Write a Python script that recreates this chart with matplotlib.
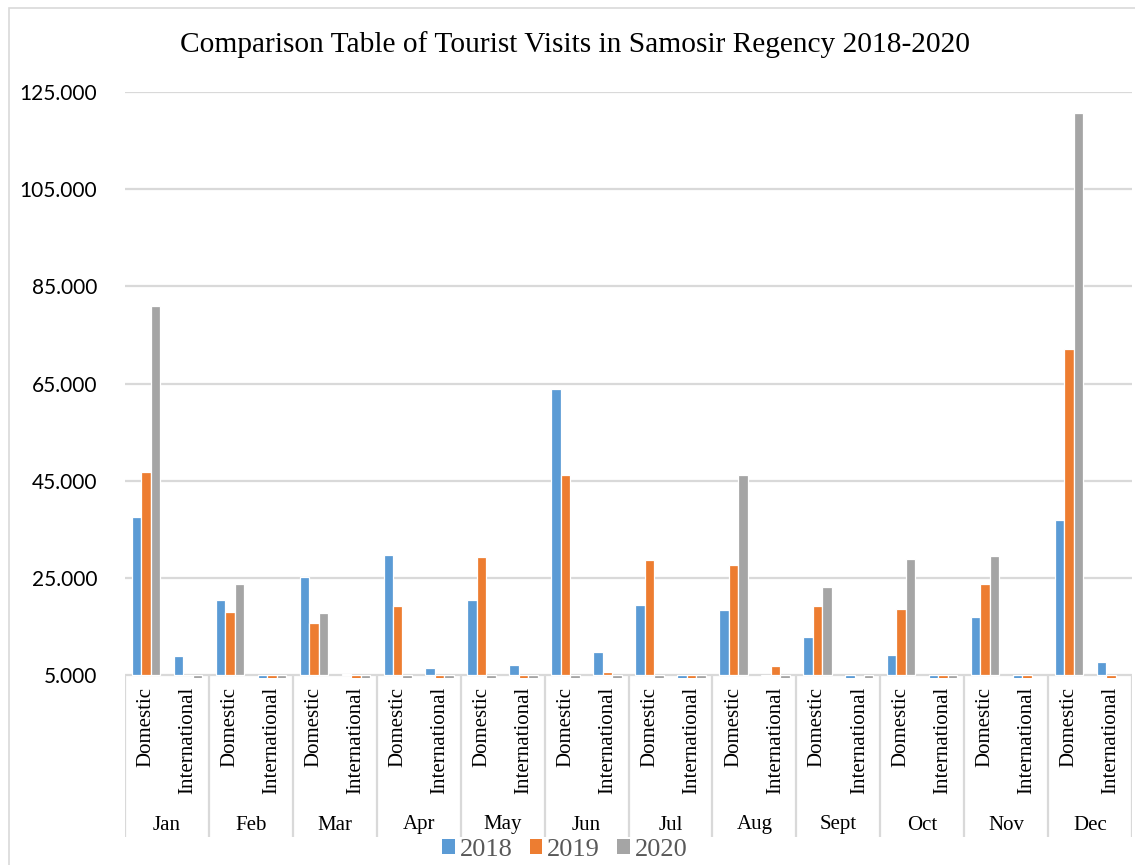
import numpy as np
import matplotlib.pyplot as plt
from matplotlib.patches import Patch, Rectangle
from matplotlib.ticker import FuncFormatter

# ---------------------------------------------------------
# data
# ---------------------------------------------------------
months = ["Jan", "Feb", "Mar", "Apr", "May", "Jun",
          "Jul", "Aug", "Sept", "Oct", "Nov", "Dec"]
kinds = ["Domestic", "International"]
years = ["2018", "2019", "2020"]

dom_2018 = [37500, 20500, 25200, 29700, 20400, 63900, 19500, 18300, 12900, 9100, 17000, 37000]
dom_2019 = [46800, 17900, 15800, 19300, 29300, 46100, 28700, 27700, 19200, 18600, 23700, 72100]
dom_2020 = [81000, 23700, 17800, 600, 500, 700, 400, 46100, 23100, 28900, 29400, 120700]

intl_2018 = [8900, 300, 5300, 6400, 7100, 9700, 300, 4800, 300, 300, 300, 7600]
intl_2019 = [4900, 300, 300, 300, 300, 5700, 300, 6900, np.nan, 300, 300, 300]
intl_2020 = [300, 300, 300, 300, 300, 300, 300, 300, 300, 300, np.nan, np.nan]

colors = ["#5B9BD5", "#ED7D31", "#A5A5A5"]
grid_c = "#D9D9D9"
serif = "Liberation Serif"

# interleave Domestic / International per month
series = []
for d, i in [(dom_2018, intl_2018), (dom_2019, intl_2019), (dom_2020, intl_2020)]:
    s = []
    for m in range(len(months)):
        s += [d[m], i[m]]
    series.append(np.array(s, dtype=float))

n_cat = len(months) * len(kinds)
base = 5000
W, H = 1135, 865

# ---------------------------------------------------------
# plot
# ---------------------------------------------------------
fig = plt.figure(figsize=(W / 100, H / 100), dpi=100)

# outer chart border (right/bottom are cut off in the original)
fig.patches.append(Rectangle((9 / W, -0.05), 1.1, 1 - 8 / H + 0.05,
                             transform=fig.transFigure, fill=False,
                             edgecolor=grid_c, linewidth=1.2))

x0, x1 = 125, 1132
ytop, yaxis = 92, 675
ymin = base - 3 * (125000 - base) / (yaxis - ytop)
ax = fig.add_axes([x0 / W, (H - yaxis - 3) / H, (x1 - x0) / W, (yaxis + 3 - ytop) / H])

x = np.arange(n_cat) + 0.5
bw = 0.226
for k, (vals, c) in enumerate(zip(series, colors)):
    ax.bar(x + (k - 1) * bw, vals - base, bottom=base, width=bw,
           color=c, edgecolor="white", linewidth=0.9, zorder=2)

ax.set_xlim(0, n_cat)
ax.set_ylim(ymin, 125000)
ax.set_yticks(np.arange(5000, 125001, 20000))
ax.yaxis.set_major_formatter(FuncFormatter(lambda v, p: f"{int(v):,}".replace(",", ".")))
ax.set_xticks([])
ax.tick_params(axis="y", length=0, pad=20, labelsize=15, labelcolor="#000000")
for lab in ax.get_yticklabels():
    lab.set_family("Lato")
ax.grid(axis="y", color=grid_c, linewidth=1.6, zorder=0)
ax.set_axisbelow(True)
for sp in ax.spines.values():
    sp.set_visible(False)

# multi-level category axis
ybot = 837
ax2 = fig.add_axes([x0 / W, (H - ybot) / H, (x1 - x0) / W, (ybot - yaxis) / H])
ax2.set_xlim(0, n_cat)
ax2.set_ylim(0, 1)
ax2.patch.set_visible(False)
ax2.axis("off")
for b in range(0, n_cat + 1, 2):
    ax2.plot([b, b], [0, 1], color=grid_c, linewidth=1.6)
for c in range(n_cat):
    ax2.text(c + 0.5, (ybot - 687) / (ybot - yaxis), kinds[c % 2], rotation=90,
             ha="center", va="top", family=serif, fontsize=15)
for m, name in enumerate(months):
    ax2.text(2 * m + 1, (ybot - 825) / (ybot - yaxis), name,
             ha="center", va="center", family=serif, fontsize=15)

fig.text(575 / W, 1 - 45 / H, "Comparison Table of Tourist Visits in Samosir Regency 2018-2020",
         ha="center", va="center", family=serif, fontsize=21.2)

handles = [Patch(facecolor=c, edgecolor="none", label=y) for c, y in zip(colors, years)]
leg = fig.legend(handles=handles, loc="center", bbox_to_anchor=(565 / W, (H - 850) / H),
                 ncol=3, frameon=False, handlelength=0.46, handleheight=0.46,
                 handletextpad=0.2, columnspacing=0.65, borderpad=0,
                 prop={"family": serif, "size": 19})
for t in leg.get_texts():
    t.set_color("#595959")

fig.savefig("out.png", dpi=100)
